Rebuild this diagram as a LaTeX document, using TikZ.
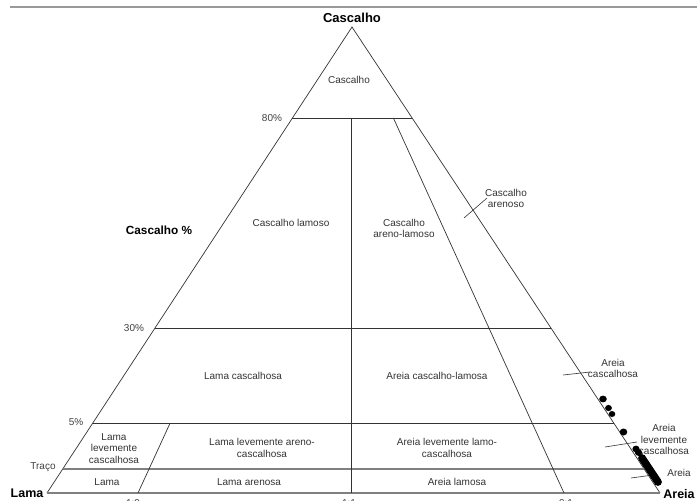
\documentclass[tikz,border=0pt]{standalone}
\usepackage{fontspec}
\setmainfont{Liberation Sans}
\usetikzlibrary{calc}
\begin{document}
\begin{tikzpicture}[x=1pt,y=-1pt,
  edge/.style={draw=black!80,line width=0.7pt},
  faint/.style={draw=black!50,line width=1.2pt},
  leader/.style={draw=black!80,line width=0.6pt},
  lbl/.style={font=\fontsize{10}{11.8}\selectfont,text=black!80,align=center,inner sep=0pt},
  axis/.style={font=\fontsize{10}{12}\selectfont,text=black!75,inner sep=0pt},
  vtx/.style={font=\bfseries\fontsize{13}{15}\selectfont,inner sep=0pt},
  dot/.style={fill=black,draw=none}]
\useasboundingbox (0,0) rectangle (697,501);
% top rule
\draw[draw=black!40,line width=1.6pt] (10,6.7) -- (697,6.7);
% vertices
\coordinate (A) at (352,27);
\coordinate (L) at (47,493);
\coordinate (R) at (660,493);
% level points on edges
\coordinate (l80) at ($(L)!0.8047!(A)$);
\coordinate (r80) at ($(R)!0.8047!(A)$);
\coordinate (l30) at ($(L)!0.3541!(A)$);
\coordinate (r30) at ($(R)!0.3541!(A)$);
\coordinate (l5) at ($(L)!0.1502!(A)$);
\coordinate (r5) at ($(R)!0.1502!(A)$);
\coordinate (lT) at ($(L)!0.0515!(A)$);
\coordinate (rT) at ($(R)!0.0515!(A)$);
% ratio lines
\coordinate (b19) at (138,493);
\coordinate (b11) at (351,493);
\coordinate (b91) at (564,493);
\coordinate (m19) at ($(b19)!0.1502!(A)$);
\coordinate (m11) at (351,118);
\coordinate (m91) at ($(b91)!0.8047!(A)$);
% triangle
\draw[edge] (L) -- (A) -- (R);
\draw[faint] (L) -- (R);
\draw[edge] (l80) -- (r80);
\draw[edge] (l30) -- (r30);
\draw[edge] (l5) -- (r5);
\draw[faint] (lT) -- (rT);
\draw[edge] (b19) -- (m19);
\draw[edge] (b11) -- (m11);
\draw[edge] (b91) -- (m91);
% vertex labels
\node[vtx] (tC) at (352,18) {Cascalho};
\node[vtx,font=\bfseries\fontsize{12.5}{15}\selectfont] (tL) at (27,493) {Lama};
\node[vtx,font=\bfseries\fontsize{12.5}{15}\selectfont] (tR) at (679,494) {Areia};
\node[vtx,font=\bfseries\fontsize{11.8}{14}\selectfont] (tCp) at (159,230) {Cascalho \%};
% axis labels
\node[axis] (p80) at (272,118) {80\%};
\node[axis] (p30) at (134,328) {30\%};
\node[axis] (p5) at (76,422) {5\%};
\node[axis] (pT) at (43,467) {Traço};
\node[axis,anchor=base] (r19) at (133,506.5) {1:9};
\node[axis,anchor=base] (r11) at (349,506.5) {1:1};
\node[axis,anchor=base] (r91) at (566,506.5) {9:1};
% region labels
\node[lbl] (g1) at (349,80) {Cascalho};
\node[lbl] (g2) at (291,223) {Cascalho lamoso};
\node[lbl] (g3) at (404,228.5) {Cascalho\\areno-lamoso};
\node[lbl] (g4) at (506,198.5) {Cascalho\\arenoso};
\node[lbl] (g5) at (243,376) {Lama cascalhosa};
\node[lbl] (g6) at (437,376) {Areia cascalho-lamosa};
\node[lbl] (g7) at (613,368.5) {Areia\\cascalhosa};
\node[lbl] (g8) at (114,448.5) {Lama\\levemente\\cascalhosa};
\node[lbl] (g9) at (262,448) {Lama levemente areno-\\cascalhosa};
\node[lbl] (g10) at (447,448) {Areia levemente lamo-\\cascalhosa};
\node[lbl] (g11) at (664,439.5) {Areia\\levemente\\cascalhosa};
\node[lbl] (g12) at (107,482) {Lama};
\node[lbl] (g13) at (249,482) {Lama arenosa};
\node[lbl] (g14) at (457,482) {Areia lamosa};
\node[lbl] (g15) at (679,473) {Areia};
% leaders
\coordinate (k1a) at (464,218); \coordinate (k1b) at (487,198);
\coordinate (k2a) at (563,375); \coordinate (k2b) at (590,372);
\coordinate (k3a) at (605,447); \coordinate (k3b) at (637,442);
\coordinate (k4a) at (631,478); \coordinate (k4b) at (653,475);
\draw[leader] (k1a) -- (k1b);
\draw[leader] (k2a) -- (k2b);
\draw[leader] (k3a) -- (k3b);
\draw[leader] (k4a) -- (k4b);
% sample points
\fill[dot] (603,399) ellipse (3.8 and 3.4);
\fill[dot] (608.5,408) ellipse (3.4 and 3.1);
\fill[dot] (612,414) ellipse (3.3 and 3);
\fill[dot] (623.5,432) ellipse (3.8 and 3.5);
\fill[dot] (636,449) ellipse (3.6 and 3.4);
\fill[dot] (638.5,452.5) ellipse (3.6 and 3.4);
\coordinate (c1) at (642,458);
\coordinate (c2) at (658,482);
\foreach \t in {0,0.05,...,1.01} \fill[dot] ($(c1)!\t!(c2)$) circle (3.9);
\end{tikzpicture}
\end{document}
